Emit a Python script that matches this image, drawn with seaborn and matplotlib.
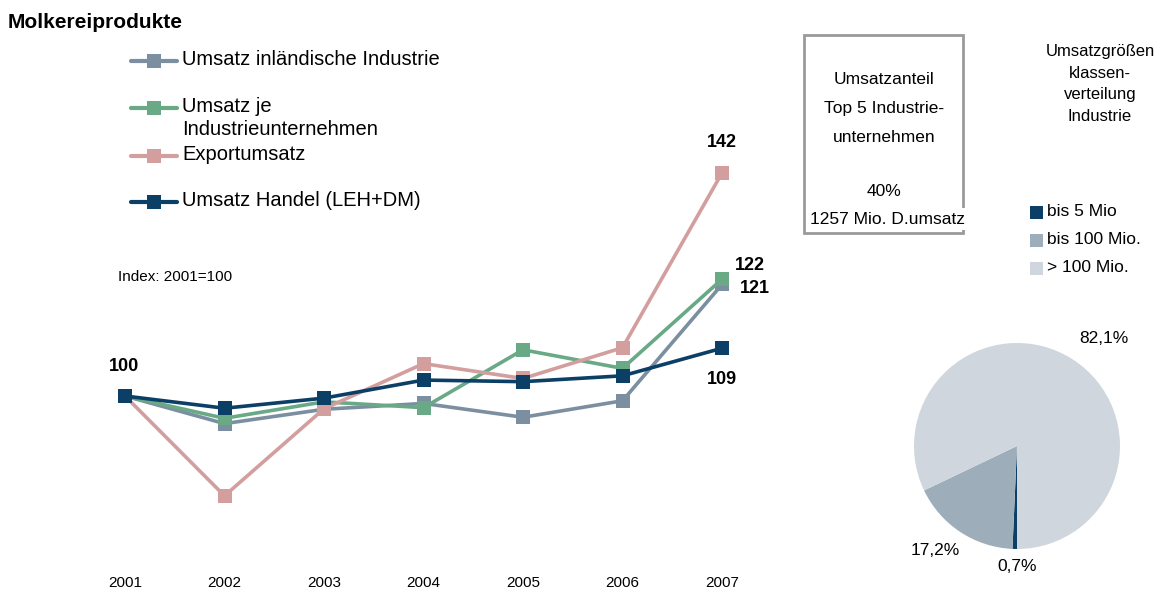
import matplotlib
matplotlib.use("Agg")
import matplotlib.pyplot as plt
from matplotlib.lines import Line2D
from matplotlib.patches import Rectangle
import numpy as np
import pandas as pd
import seaborn as sns

# ---- data ----
jahre = [2001, 2002, 2003, 2004, 2005, 2006, 2007]
umsatz_industrie = [100, 94.8, 97.5, 98.6, 96.0, 99.1, 121]
umsatz_je_unternehmen = [100, 95.8, 98.9, 97.8, 108.7, 105.2, 122]
exportumsatz = [100, 81.2, 97.6, 106.1, 103.3, 109.1, 142]
umsatz_handel = [100, 97.7, 99.6, 103.0, 102.7, 103.8, 109]

reihen = ["Umsatz inländische Industrie", "Umsatz je\nIndustrieunternehmen",
          "Exportumsatz", "Umsatz Handel (LEH+DM)"]
farben = ["#7B8FA1", "#69A985", "#D39E9E", "#0C3F66"]

pie_labels = ["bis 5 Mio", "bis 100 Mio.", "> 100 Mio."]
pie_werte = [0.7, 17.2, 82.1]
pie_farben = ["#0C3F66", "#9DADBA", "#CFD6DD"]
pie_texte = ["0,7%", "17,2%", "82,1%"]

# ---- style ----
sns.set_style("white")
plt.rcParams["font.family"] = ["Liberation Sans", "DejaVu Sans"]
plt.rcParams["text.color"] = "black"
plt.rcParams["xtick.color"] = "black"
plt.rcParams["axes.labelcolor"] = "black"

W, H = 1165, 590
fig = plt.figure(figsize=(W / 100, H / 100), dpi=100)


def fx(px):
    return px / W


def fy(py):
    return 1 - py / H


# ---- line chart ----
ax = fig.add_axes([fx(75.25), fy(555.3), 696.5 / W, 424.8 / H])
df = pd.DataFrame({
    "Jahr": jahre * 4,
    "Index": umsatz_industrie + umsatz_je_unternehmen + exportumsatz + umsatz_handel,
    "Reihe": sum([[r] * len(jahre) for r in reihen], []),
})
sns.lineplot(data=df, x="Jahr", y="Index", hue="Reihe", hue_order=reihen,
             palette=farben, marker="s", markersize=9.5, markeredgewidth=0,
             linewidth=2.6, legend=False, ax=ax)
ax.set_xlim(2000.5, 2007.5)
ax.set_ylim(70, 150)
ax.set_xticks(jahre)
ax.set_xticklabels([str(j) for j in jahre], fontsize=11, color="black")
ax.set_yticks([])
ax.tick_params(axis="x", length=0, pad=15)
ax.set_xlabel("")
ax.set_ylabel("")
for s in ax.spines.values():
    s.set_visible(False)
ax.patch.set_alpha(0)

# value labels
lab_kw = dict(textcoords="offset pixels", fontsize=13, fontweight="bold",
              ha="center", va="center", color="black")
ax.annotate(f"{umsatz_handel[0]:.0f}", (jahre[0], umsatz_handel[0]), xytext=(-1, 29), **lab_kw)
ax.annotate(f"{exportumsatz[-1]:.0f}", (jahre[-1], exportumsatz[-1]), xytext=(0, 30), **lab_kw)
ax.annotate(f"{umsatz_je_unternehmen[-1]:.0f}", (jahre[-1], umsatz_je_unternehmen[-1]), xytext=(28, 14), **lab_kw)
ax.annotate(f"{umsatz_industrie[-1]:.0f}", (jahre[-1], umsatz_industrie[-1]), xytext=(33, -4), **lab_kw)
ax.annotate(f"{umsatz_handel[-1]:.0f}", (jahre[-1], umsatz_handel[-1]), xytext=(0, -31), **lab_kw)

# ---- title, legend, note ----
fig.text(fx(8), fy(22), "Molkereiprodukte", fontsize=15, fontweight="bold",
         ha="left", va="center")

leg_y = [61, 108, 156, 202]
for y, farbe, label in zip(leg_y, farben, reihen):
    fig.add_artist(Line2D([fx(131), fx(177)], [fy(y), fy(y)], color=farbe, lw=3))
    fig.add_artist(Line2D([fx(154)], [fy(y)], color=farbe, marker="s",
                          markersize=10.5, markeredgewidth=0))
    fig.text(fx(182), fy(y - 11), label, fontsize=14.5, ha="left", va="top",
             linespacing=1.25)

fig.text(fx(118), fy(277), "Index: 2001=100", fontsize=11, ha="left", va="center")

# ---- info box ----
fig.add_artist(Rectangle((fx(804), fy(233)), fx(963) - fx(804), fy(35) - fy(233),
                         fill=False, edgecolor="#9A9A9A", lw=2, zorder=1))
box_x = 884
for txt, y in [("Umsatzanteil", 80), ("Top 5 Industrie-", 108), ("unternehmen", 137),
               ("40%", 191)]:
    fig.text(fx(box_x), fy(y), txt, fontsize=12.5, ha="center", va="center")
fig.text(fx(887), fy(219), "1257 Mio. D.umsatz", fontsize=12.5, ha="center", va="center",
         zorder=3, bbox=dict(facecolor="white", edgecolor="none", pad=2.5))

# ---- pie chart ----
fig.text(fx(1100), fy(84), "Umsatzgrößen\nklassen-\nverteilung\nIndustrie",
         fontsize=12, ha="center", va="center", linespacing=1.55)

for y, farbe, label in zip([212, 240, 268], pie_farben, pie_labels):
    fig.add_artist(Rectangle((fx(1030), fy(y + 6.5)), 13 / W, 13 / H,
                             facecolor=farbe, edgecolor="none"))
    fig.text(fx(1047), fy(y), label, fontsize=12.5, ha="left", va="center")

pax = fig.add_axes([fx(1017 - 103), fy(446 + 103), 206 / W, 206 / H])
pax.pie(pie_werte, colors=pie_farben, startangle=270, counterclock=False,
        radius=1, wedgeprops=dict(linewidth=0))
pax.set_xlim(-1, 1)
pax.set_ylim(-1, 1)
pax.set_aspect("equal")
pax.axis("off")
for txt, (x, y) in zip(pie_texte, [(0.0, -1.17), (-0.79, -1.01), (0.84, 1.04)]):
    pax.text(x, y, txt, fontsize=12.5, ha="center", va="center", clip_on=False)

fig.savefig("out.png", dpi=100)
